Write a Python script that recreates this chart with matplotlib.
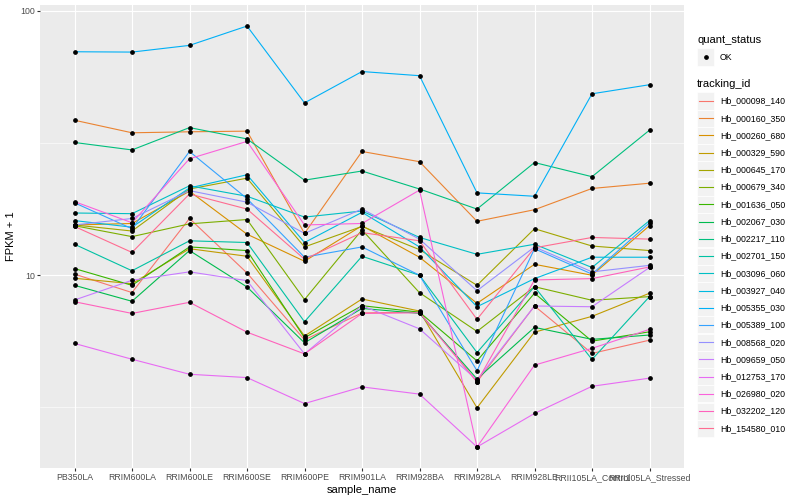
import numpy as np
import matplotlib
matplotlib.use("Agg")
from matplotlib import pyplot as plt
from matplotlib.lines import Line2D
from matplotlib.patches import Rectangle
from matplotlib.ticker import FixedLocator, NullFormatter

plt.rcParams["font.family"] = ["Liberation Sans", "DejaVu Sans"]

sample_names = [
    "PB350LA", "RRIM600LA", "RRIM600LE", "RRIM600SE", "RRIM600PE", "RRIM901LA",
    "RRIM928BA", "RRIM928LA", "RRIM928LE", "RRII105LA_Control", "RRII105LA_Stressed",
]

tracking_ids = [
    "Hb_000098_140", "Hb_000160_350", "Hb_000260_680", "Hb_000329_590",
    "Hb_000645_170", "Hb_000679_340", "Hb_001636_050", "Hb_002067_030",
    "Hb_002217_110", "Hb_002701_150", "Hb_003096_060", "Hb_003927_040",
    "Hb_005355_030", "Hb_005389_100", "Hb_008568_020", "Hb_009659_050",
    "Hb_012753_170", "Hb_026980_020", "Hb_032202_120", "Hb_154580_010",
]

# FPKM + 1 per sample, one list per gene
hb_000098_140 = [10.1, 8.6, 16.4, 10.2, 5.7, 7.2, 7.25, 3.95, 7.65, 5.06, 5.68]
hb_000160_350 = [38.6, 34.6, 34.9, 35.1, 14.4, 29.4, 26.9, 16.0, 17.7, 21.3, 22.3]
hb_000260_680 = [15.5, 15.7, 20.8, 14.3, 11.3, 15.4, 11.7, 7.83, 11.0, 10.0, 15.4]
hb_000329_590 = [9.74, 9.29, 12.6, 11.8, 5.89, 8.13, 7.32, 3.15, 6.09, 6.99, 8.55]
hb_000645_170 = [15.5, 14.7, 21.2, 23.3, 12.8, 15.3, 12.5, 9.16, 15.0, 12.9, 12.4]
hb_000679_340 = [15.4, 14.0, 15.65, 16.25, 8.09, 14.85, 8.59, 6.13, 9.05, 8.04, 8.30]
hb_001636_050 = [10.6, 9.16, 12.8, 12.4, 5.80, 7.67, 7.25, 4.74, 8.55, 5.63, 6.11]
hb_002067_030 = [9.16, 7.97, 12.4, 9.03, 5.55, 7.49, 7.17, 4.05, 6.35, 5.72, 5.94]
hb_002217_110 = [31.8, 29.8, 36.2, 32.8, 22.9, 24.8, 21.2, 17.8, 26.7, 23.6, 35.4]
hb_002701_150 = [13.1, 10.4, 13.5, 13.3, 6.67, 11.8, 10.0, 5.10, 9.05, 4.80, 8.30]
hb_003096_060 = [17.2, 17.1, 21.8, 19.9, 16.6, 17.5, 13.9, 12.0, 13.1, 10.7, 16.1]
hb_003927_040 = [16.1, 15.2, 21.4, 24.0, 13.3, 17.3, 12.8, 7.60, 9.71, 11.7, 11.7]
hb_005355_030 = [70.1, 69.9, 74.1, 87.7, 44.9, 59.0, 56.9, 20.5, 19.9, 48.6, 52.6]
hb_005389_100 = [18.8, 15.0, 29.4, 19.5, 11.7, 12.8, 10.0, 4.35, 12.6, 10.1, 15.8]
hb_008568_020 = [15.5, 16.4, 20.9, 18.9, 14.4, 17.8, 13.7, 8.74, 12.8, 10.3, 10.9]
hb_009659_050 = [8.06, 9.57, 10.3, 9.54, 5.04, 7.67, 6.27, 4.01, 7.65, 7.60, 10.7]
hb_012753_170 = [5.52, 4.81, 4.22, 4.10, 3.27, 3.78, 3.55, 2.24, 3.00, 3.80, 4.08]
hb_026980_020 = [19.0, 15.8, 27.6, 32.1, 15.5, 15.7, 21.0, 2.24, 4.57, 5.29, 6.24]
hb_032202_120 = [7.94, 7.17, 7.90, 6.09, 5.04, 7.17, 7.21, 3.95, 9.60, 9.71, 10.75]
hb_154580_010 = [15.3, 12.2, 20.3, 17.8, 11.5, 14.5, 13.5, 6.81, 12.7, 13.9, 13.7]

series = [
    hb_000098_140, hb_000160_350, hb_000260_680, hb_000329_590, hb_000645_170,
    hb_000679_340, hb_001636_050, hb_002067_030, hb_002217_110, hb_002701_150,
    hb_003096_060, hb_003927_040, hb_005355_030, hb_005389_100, hb_008568_020,
    hb_009659_050, hb_012753_170, hb_026980_020, hb_032202_120, hb_154580_010,
]

# ggplot2 default hue palette for 20 levels
colors = [
    "#F8766D", "#EA8331", "#D89000", "#C09B00", "#A3A500", "#7CAE00", "#39B600",
    "#00BB4E", "#00BF7D", "#00C1A3", "#00BFC4", "#00BAE0", "#00B0F6", "#35A2FF",
    "#9590FF", "#C77CFF", "#E76BF3", "#FA62DB", "#FF62BC", "#FF6C91",
]

W, H = 800, 500
fig = plt.figure(figsize=(W / 100, H / 100), dpi=100)
ax = fig.add_axes([40 / W, 1 - 468 / H, 644 / W, 463 / H])
ax.set_facecolor("#EBEBEB")
for s in ax.spines.values():
    s.set_visible(False)

x = np.arange(len(sample_names))
for vals, col in zip(series, colors):
    ax.plot(x, vals, color=col, lw=0.8, zorder=2)
for vals in series:
    ax.plot(x, vals, ls="none", marker="o", ms=2.4, color="black", zorder=3)

ax.set_yscale("log")
allv = np.log10(np.concatenate([np.asarray(v, float) for v in series]))
lo, hi = allv.min(), allv.max()
pad = 0.05 * (hi - lo)
ax.set_ylim(10 ** (lo - pad), 10 ** (hi + pad))
ax.set_xlim(-0.6, len(sample_names) - 0.4)

ax.yaxis.set_major_locator(FixedLocator([10, 100]))
ax.yaxis.set_minor_locator(FixedLocator([10 ** 0.5, 10 ** 1.5]))
ax.yaxis.set_minor_formatter(NullFormatter())
ax.set_yticklabels(["10", "100"])
ax.set_xticks(x)
ax.set_xticklabels(sample_names)

ax.grid(which="major", color="white", lw=0.8)
ax.grid(which="minor", axis="y", color="white", lw=0.4)
ax.set_axisbelow(True)
ax.tick_params(which="major", length=2, width=0.8, color="#333333",
               labelsize=6.3, labelcolor="#4D4D4D", pad=1.5)
ax.tick_params(which="minor", length=0)

ax.set_xlabel("sample_name", fontsize=8, labelpad=2)
ax.set_ylabel("FPKM + 1", fontsize=8, labelpad=3)

# legends, drawn by hand to get ggplot-style key boxes
def fx(px):
    return px / W

def fy(py):
    return 1 - py / H

key_x, key_w, key_h = 697, 17, 17
fig.text(fx(697), fy(40), "quant_status", fontsize=8, va="center", ha="left")
fig.patches.append(Rectangle((fx(key_x), fy(57 + key_h / 2)), key_w / W, key_h / H,
                             transform=fig.transFigure, facecolor="#F2F2F2",
                             edgecolor="white", lw=0.5))
fig.lines.append(Line2D([fx(key_x + key_w / 2)], [fy(57)], transform=fig.transFigure,
                        marker="o", ms=2.4, color="black", ls="none"))
fig.text(fx(720), fy(57), "OK", fontsize=6.3, va="center", ha="left")

fig.text(fx(697), fy(84), "tracking_id", fontsize=8, va="center", ha="left")
step = 17.23
for i, (name, col) in enumerate(zip(tracking_ids, colors)):
    cy = 101 + i * step
    fig.patches.append(Rectangle((fx(key_x), fy(cy + key_h / 2)), key_w / W, key_h / H,
                                 transform=fig.transFigure, facecolor="#F2F2F2",
                                 edgecolor="white", lw=0.5))
    fig.lines.append(Line2D([fx(key_x + 1.5), fx(key_x + key_w - 1.5)], [fy(cy), fy(cy)],
                            transform=fig.transFigure, color=col, lw=0.8))
    fig.text(fx(720), fy(cy), name, fontsize=6.3, va="center", ha="left")

fig.savefig("out.png", dpi=100, facecolor="white")
